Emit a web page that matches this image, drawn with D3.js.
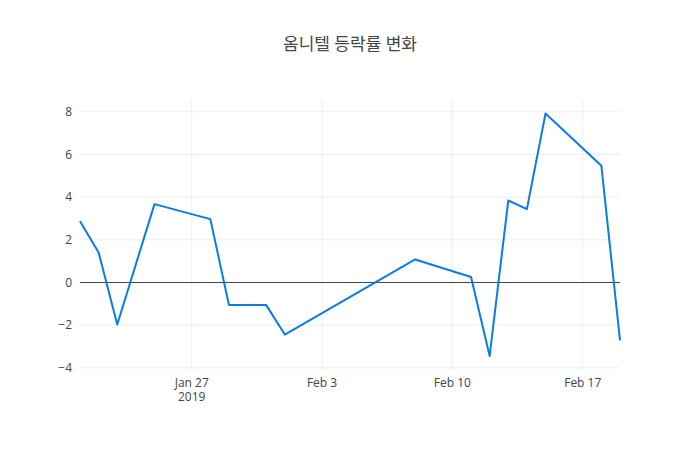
<!DOCTYPE html>
<html lang="ko">
<head>
<meta charset="utf-8">
<title>옴니텔 등락률 변화</title>
<script src="https://d3js.org/d3.v7.min.js"></script>
<style>
  body { margin: 0; background: #fff; }
  text { font-family: "Open Sans", "Noto Sans CJK KR", sans-serif; }
</style>
</head>
<body>
<script>
var w = 700, h = 450;
var margin = {top: 100, right: 80, bottom: 80, left: 80};
var innerWidth = w - margin.left - margin.right;
var innerHeight = h - margin.top - margin.bottom;

// data
var dates = ["2019-01-21", "2019-01-22", "2019-01-23", "2019-01-25", "2019-01-28",
  "2019-01-29", "2019-01-30", "2019-01-31", "2019-02-01", "2019-02-08",
  "2019-02-11", "2019-02-12", "2019-02-13", "2019-02-14", "2019-02-15",
  "2019-02-18", "2019-02-19"];
var changes = [2.87, 1.41, -1.97, 3.67, 2.97,
  -1.06, -1.06, -1.06, -2.44, 1.08,
  0.26, -3.44, 3.84, 3.44, 7.92,
  5.47, -2.71];
var yTicks = [-4, -2, 0, 2, 4, 6, 8];
var xTicks = ["2019-01-27", "2019-02-03", "2019-02-10", "2019-02-17"];

var parse = d3.timeParse("%Y-%m-%d");
var data = dates.map(function (d, i) { return {date: parse(d), value: changes[i]}; });

var xScale = d3.scaleTime()
  .domain([parse("2019-01-21"), parse("2019-02-19")])
  .range([0, innerWidth]);

var yScale = d3.scaleLinear()
  .domain([-4.1, 8.55])
  .range([innerHeight, 0]);

var svg = d3.select("body")
  .append("svg")
  .attr("width", w)
  .attr("height", h);

svg.append("text")
  .attr("x", w / 2)
  .attr("y", 50)
  .attr("text-anchor", "middle")
  .attr("font-size", 17)
  .attr("fill", "#444")
  .text("옴니텔 등락률 변화");

var g = svg.append("g")
  .attr("transform", "translate(" + margin.left + "," + margin.top + ")");

// grid lines
g.selectAll(".ygrid")
  .data(yTicks.filter(function (t) { return t !== 0; }))
  .enter().append("line")
  .attr("x1", 0).attr("x2", innerWidth)
  .attr("y1", function (d) { return yScale(d); })
  .attr("y2", function (d) { return yScale(d); })
  .attr("stroke", "#eee");

g.selectAll(".xgrid")
  .data(xTicks)
  .enter().append("line")
  .attr("x1", function (d) { return xScale(parse(d)); })
  .attr("x2", function (d) { return xScale(parse(d)); })
  .attr("y1", 0).attr("y2", innerHeight)
  .attr("stroke", "#eee");

// zero line
g.append("line")
  .attr("x1", 0).attr("x2", innerWidth)
  .attr("y1", yScale(0)).attr("y2", yScale(0))
  .attr("stroke", "#444");

// y tick labels
g.selectAll(".ylab")
  .data(yTicks)
  .enter().append("text")
  .attr("x", -8)
  .attr("y", function (d) { return yScale(d); })
  .attr("dy", "0.35em")
  .attr("text-anchor", "end")
  .attr("font-size", 12)
  .attr("fill", "#444")
  .text(function (d) { return d < 0 ? "\u2212" + Math.abs(d) : d; });

// x tick labels
var fmt = d3.timeFormat("%b %-d");
g.selectAll(".xlab")
  .data(xTicks)
  .enter().append("text")
  .attr("x", function (d) { return xScale(parse(d)); })
  .attr("y", innerHeight + 17)
  .attr("text-anchor", "middle")
  .attr("font-size", 12)
  .attr("fill", "#444")
  .text(function (d) { return fmt(parse(d)); });

g.append("text")
  .attr("x", xScale(parse(xTicks[0])))
  .attr("y", innerHeight + 31)
  .attr("text-anchor", "middle")
  .attr("font-size", 12)
  .attr("fill", "#444")
  .text("2019");

// the line
var line = d3.line()
  .x(function (d) { return xScale(d.date); })
  .y(function (d) { return yScale(d.value); });

g.append("path")
  .datum(data)
  .attr("d", line)
  .attr("fill", "none")
  .attr("stroke", "#0b7be6")
  .attr("stroke-width", 2)
  .attr("stroke-linejoin", "round");
</script>
</body>
</html>
